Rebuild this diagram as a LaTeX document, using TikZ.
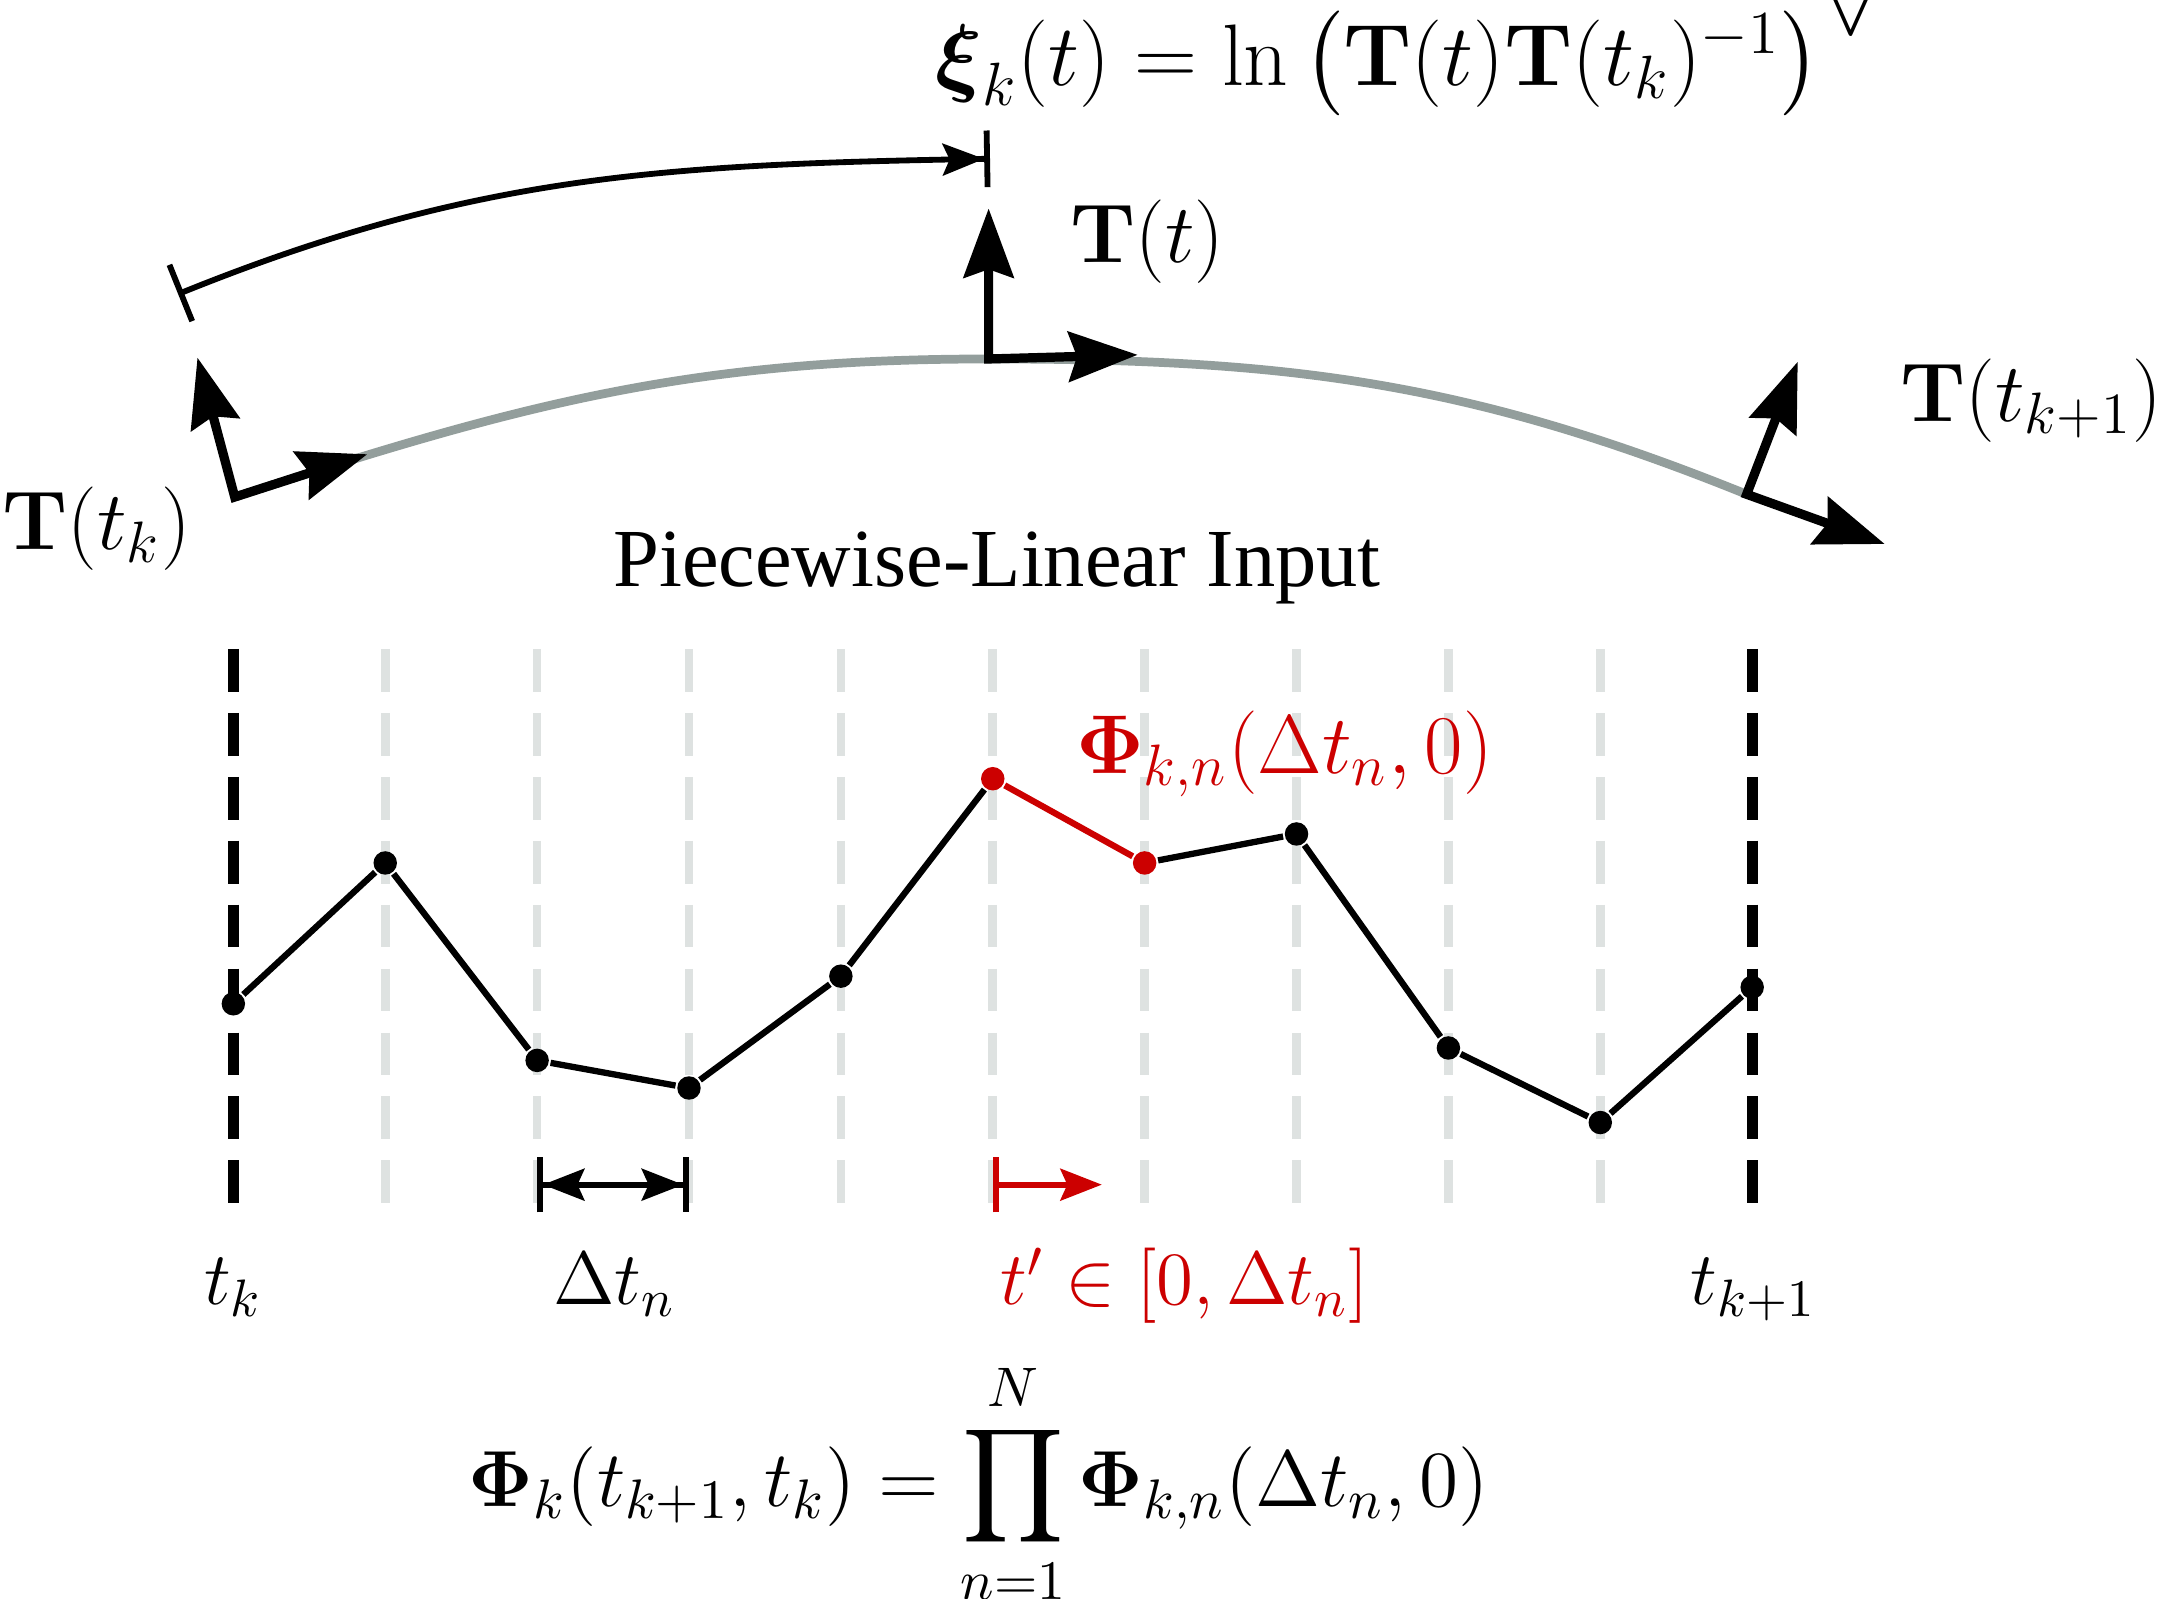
\RequirePackage{fix-cm}
\documentclass[tikz,border=0pt]{standalone}
\usepackage{amsmath}
\usepackage{amssymb}
\usepackage[no-math]{fontspec}
\newfontfamily\labelfont{Liberation Serif}
\usetikzlibrary{arrows.meta}
\usetikzlibrary{positioning}
\definecolor{trajgray}{RGB}{147,158,156}
\definecolor{gridgray}{RGB}{222,226,225}
\definecolor{myred}{RGB}{204,0,0}

\begin{document}
\begin{tikzpicture}[thick,every node/.style={font=\fontsize{15.5}{18}\selectfont},
    big label/.style={font=\fontsize{17.2}{20}\selectfont},
    dot node/.style={circle,fill=black,inner sep=0pt,minimum size=1.7mm},
    red node/.style={circle,fill=myred,inner sep=0pt,minimum size=1.7mm},
    grid line/.style={gridgray,line width=1.8pt,dash pattern=on 3.1mm off 1.53mm},
    end line/.style={black,line width=2.2pt,dash pattern=on 3.1mm off 1.53mm},
    frame/.style={{Stealth[length=5mm,width=3.6mm,inset=0.6mm]}-{Stealth[length=5mm,width=3.6mm,inset=0.6mm]},line width=1.9pt,line join=miter},
    span arrow/.style={{Bar[width=4mm]Stealth[length=3mm,width=2.3mm,inset=0.5mm]}-{Stealth[length=3mm,width=2.3mm,inset=0.5mm]Bar[width=4mm]},line width=1.2pt},
    shift arrow/.style={{Bar[width=4mm]}-{Stealth[length=3mm,width=2.3mm,inset=0.5mm]},line width=1.2pt,myred},
    arc arrow/.style={{Bar[width=4.4mm]}-{Stealth[length=3mm,width=2.3mm,inset=0.5mm]Bar[width=4.1mm]},line width=1.2pt}]
   \useasboundingbox (0,0) rectangle (15.68,11.58);
   % trajectory and frames
   \coordinate (o1) at (1.70,7.98);
   \coordinate (x1) at (2.66,8.29);
   \coordinate (y1) at (1.43,8.99);
   \coordinate (o2) at (7.16,8.98);
   \coordinate (x2) at (8.24,9.01);
   \coordinate (y2) at (7.16,10.07);
   \coordinate (o3) at (12.65,8.00);
   \coordinate (x3) at (13.65,7.64);
   \coordinate (y3) at (13.02,8.96);
   \draw[trajgray,line width=1.8pt] (o1) to[out=18,in=180] (o2) to[out=0,in=158] (o3);
   \draw[frame] (y1) -- (o1) -- (x1);
   \draw[frame] (y2) -- (o2) -- (x2);
   \draw[frame] (y3) -- (o3) -- (x3);
   \coordinate (a1) at (1.29,9.45);
   \coordinate (a2) at (7.17,10.43);
   \draw[arc arrow] (a1) to[out=22,in=181] (a2);
   \node[big label,anchor=base] (Tk) at (0.70,7.60) {$\mathbf{T}(t_k)$};
   \node[big label,anchor=base] (Tt) at (8.31,9.68) {$\mathbf{T}(t)$};
   \node[big label,anchor=base] (Tk1) at (14.71,8.53) {$\mathbf{T}(t_{k+1})$};
   \node[anchor=base west,inner sep=0pt,font=\fontsize{18}{21}\selectfont] (xi) at (6.76,10.96) {$\boldsymbol{\xi}_k(t) = \ln\big(\mathbf{T}(t)\mathbf{T}(t_k)^{-1}\big)^{\scalebox{1.5}{$\scriptstyle\vee$}}$};
   \node[anchor=base,font=\labelfont\fontsize{17}{20}\selectfont] (pl) at (7.22,7.33) {Piecewise-Linear Input};
   % time grid
   \draw[end line] (1.69,6.88) -- (1.69,2.86);
   \draw[grid line] (2.79,6.88) -- (2.79,2.86);
   \draw[grid line] (3.89,6.88) -- (3.89,2.86);
   \draw[grid line] (4.99,6.88) -- (4.99,2.86);
   \draw[grid line] (6.09,6.88) -- (6.09,2.86);
   \draw[grid line] (7.19,6.88) -- (7.19,2.86);
   \draw[grid line] (8.29,6.88) -- (8.29,2.86);
   \draw[grid line] (9.39,6.88) -- (9.39,2.86);
   \draw[grid line] (10.49,6.88) -- (10.49,2.86);
   \draw[grid line] (11.59,6.88) -- (11.59,2.86);
   \draw[end line] (12.69,6.88) -- (12.69,2.86);
   % input samples
   \node[dot node] (a) at (1.69,4.31) {};
   \node[dot node] (b) at (2.79,5.33) {};
   \node[dot node] (c) at (3.89,3.90) {};
   \node[dot node] (d) at (4.99,3.70) {};
   \node[dot node] (e) at (6.09,4.51) {};
   \node[red node] (f) at (7.19,5.94) {};
   \node[red node] (g) at (8.29,5.33) {};
   \node[dot node] (h) at (9.39,5.54) {};
   \node[dot node] (i) at (10.49,3.99) {};
   \node[dot node] (j) at (11.59,3.45) {};
   \node[dot node] (k) at (12.69,4.43) {};
   \path[-,line width=1.3pt] (a) edge (b);
   \path[-,line width=1.3pt] (b) edge (c);
   \path[-,line width=1.3pt] (c) edge (d);
   \path[-,line width=1.3pt] (d) edge (e);
   \path[-,line width=1.3pt] (e) edge (f);
   \path[-,line width=1.3pt,myred] (f) edge (g);
   \path[-,line width=1.3pt] (g) edge (h);
   \path[-,line width=1.3pt] (h) edge (i);
   \path[-,line width=1.3pt] (i) edge (j);
   \path[-,line width=1.3pt] (j) edge (k);
   \node[big label,anchor=base west,inner sep=0pt,text=myred] (phi) at (7.78,5.98) {$\mathbf{\Phi}_{k,n}(\Delta t_n,0)$};
   % intervals
   \coordinate (dl) at (3.89,3.00);
   \coordinate (dr) at (4.99,3.00);
   \coordinate (rl) at (7.19,3.00);
   \coordinate (rr) at (7.98,3.00);
   \draw[span arrow] (dl) -- (dr);
   \draw[shift arrow] (rl) -- (rr);
   \node[anchor=base] (lk) at (1.69,2.13) {$t_k$};
   \node[anchor=base] (ldt) at (4.45,2.13) {$\Delta t_n$};
   \node[anchor=base,text=myred] (lt) at (8.58,2.13) {$t' \in [0,\Delta t_n]$};
   \node[anchor=base] (lk1) at (12.70,2.13) {$t_{k+1}$};
   \node[anchor=base,font=\fontsize{16.4}{19}\selectfont] (prod) at (7.09,0.67) {$\displaystyle \mathbf{\Phi}_k(t_{k+1},t_k) = \prod_{n=1}^{N} \mathbf{\Phi}_{k,n}(\Delta t_n,0)$};
\end{tikzpicture}
\end{document}
